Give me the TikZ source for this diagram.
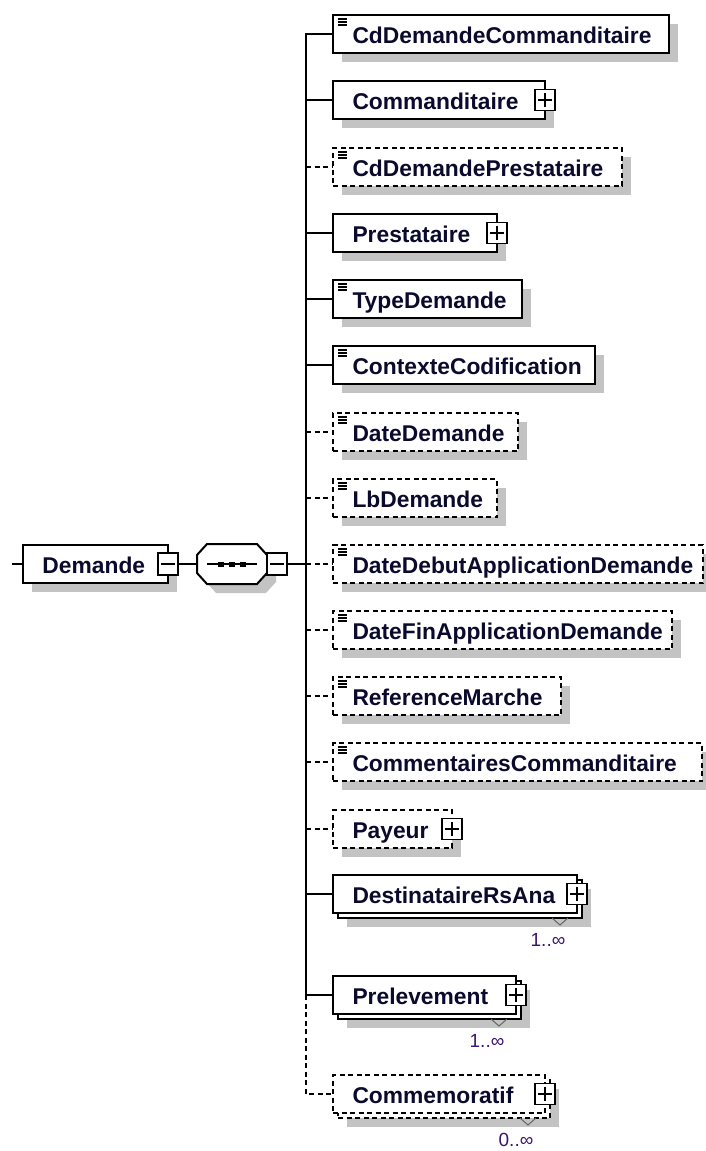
\documentclass[tikz,border=0pt]{standalone}
\usepackage{fontspec}
\setmainfont{Liberation Sans}
\definecolor{txtc}{RGB}{10,10,45}
\definecolor{shadowc}{RGB}{195,195,195}
\definecolor{multc}{RGB}{60,20,110}
\definecolor{vmc}{RGB}{100,100,100}
\tikzset{
  elem/.style={draw=black, line width=2pt, fill=white, anchor=west,
    inner xsep=0pt, inner ysep=0pt, outer sep=0pt, minimum height=38pt,
    text height=22pt, text depth=4pt,
    font=\bfseries\fontsize{22.8}{26}\selectfont, text=txtc},
  boxw/.style={execute at begin node={\hbox to #1\bgroup\hspace*{19.5pt}},
    execute at end node={\hfil\egroup}},
  opt/.style={dash pattern=on 5pt off 3.5pt},
  shd/.style={preaction={fill=shadowc, draw=none,
    transform canvas={shift={(9pt,-9pt)}}}},
  stk/.style={preaction={fill=shadowc, draw=none,
      transform canvas={shift={(14pt,-14pt)}}},
    preaction={fill=white, draw=black, line width=2pt, solid,
      transform canvas={shift={(5pt,-5pt)}}}},
  stkopt/.style={preaction={fill=shadowc, draw=none,
      transform canvas={shift={(14pt,-14pt)}}},
    preaction={fill=white, draw=black, line width=2pt,
      dash pattern=on 5pt off 3.5pt,
      transform canvas={shift={(5pt,-5pt)}}}},
  simpleicon/.style={path picture={
    \draw[line width=1.1pt, black, solid]
      ([shift={(5pt,-4pt)}]path picture bounding box.north west) -- ++(9pt,0pt)
      ([shift={(5pt,-7pt)}]path picture bounding box.north west) -- ++(9pt,0pt)
      ([shift={(5pt,-10pt)}]path picture bounding box.north west) -- ++(9pt,0pt);}},
  plusb/.style={draw=black, solid, line width=1.6pt, fill=white,
    minimum width=20pt, minimum height=21pt, inner sep=0pt, outer sep=0pt,
    path picture={\draw[line width=1.4pt, solid]
      ([xshift=-7pt]path picture bounding box.center) -- ([xshift=7pt]path picture bounding box.center)
      ([yshift=-7pt]path picture bounding box.center) -- ([yshift=7pt]path picture bounding box.center);}},
  minusb/.style={draw=black, solid, line width=1.6pt, fill=white,
    minimum width=20pt, minimum height=22pt, inner sep=0pt, outer sep=0pt,
    path picture={\draw[line width=1.4pt, solid]
      ([xshift=-7pt]path picture bounding box.center) -- ([xshift=7pt]path picture bounding box.center);}},
  conn/.style={line width=2pt, black},
  mult/.style={font=\fontsize{19}{21}\selectfont, text=multc, inner sep=0pt},
  vmark/.style={line width=1pt, draw=vmc, solid},
}
\begin{document}
\begin{tikzpicture}[x=1pt, y=-1pt]
\useasboundingbox (0,0) rectangle (706,1151);

% trunk coordinates
\coordinate (t1) at (306,34);
\coordinate (t2) at (306,100);
\coordinate (t3) at (306,167);
\coordinate (t4) at (306,233);
\coordinate (t5) at (306,299);
\coordinate (t6) at (306,365);
\coordinate (t7) at (306,432);
\coordinate (t8) at (306,498);
\coordinate (t9) at (306,564);
\coordinate (t10) at (306,630);
\coordinate (t11) at (306,696);
\coordinate (t12) at (306,762);
\coordinate (t13) at (306,829);
\coordinate (t14) at (306,894);
\coordinate (t15) at (306,995);
\coordinate (t16) at (306,1094);
\coordinate (stub) at (12,564);

% root element and sequence
\node[elem, shd, boxw=145pt] (n0) at (23,564) {Demande};
\node[minusb] (dm) at (n0.east) {};
\node[minimum width=70pt, minimum height=40pt, inner sep=0pt, outer sep=0pt] (seq) at (232,564) {};
\draw[line width=2pt, fill=white, shd]
  ([xshift=10pt]seq.north west) -- ([xshift=-10pt]seq.north east)
  -- ([yshift=-11pt]seq.north east) -- ([yshift=11pt]seq.south east)
  -- ([xshift=-10pt]seq.south east) -- ([xshift=10pt]seq.south west)
  -- ([yshift=11pt]seq.south west) -- ([yshift=-11pt]seq.north west) -- cycle;
\draw[line width=1.5pt] ([xshift=10pt]seq.west) -- ([xshift=-10pt]seq.east);
\fill ([xshift=-11pt]seq.center) +(-3pt,-2.5pt) rectangle +(3pt,2.5pt);
\fill (seq.center) +(-3pt,-2.5pt) rectangle +(3pt,2.5pt);
\fill ([xshift=11pt]seq.center) +(-3pt,-2.5pt) rectangle +(3pt,2.5pt);
\node[minusb, anchor=west] (sm) at (seq.east) {};

% children
\node[elem, shd, simpleicon, boxw=336pt] (n1) at (333,34) {CdDemandeCommanditaire};
\node[elem, shd, boxw=212pt] (n2) at (333,100) {Commanditaire};
\node[plusb] (p2) at (n2.east) {};
\node[elem, opt, shd, simpleicon, boxw=289pt] (n3) at (333,167) {CdDemandePrestataire};
\node[elem, shd, boxw=164pt] (n4) at (333,233) {Prestataire};
\node[plusb] (p4) at (n4.east) {};
\node[elem, shd, simpleicon, boxw=189pt] (n5) at (333,299) {TypeDemande};
\node[elem, shd, simpleicon, boxw=262pt] (n6) at (333,365) {ContexteCodification};
\node[elem, opt, shd, simpleicon, boxw=185pt] (n7) at (333,432) {DateDemande};
\node[elem, opt, shd, simpleicon, boxw=164pt] (n8) at (333,498) {LbDemande};
\node[elem, opt, shd, simpleicon, boxw=370pt] (n9) at (333,564) {DateDebutApplicationDemande};
\node[elem, opt, shd, simpleicon, boxw=339pt] (n10) at (333,630) {DateFinApplicationDemande};
\node[elem, opt, shd, simpleicon, boxw=228pt] (n11) at (333,696) {ReferenceMarche};
\node[elem, opt, shd, simpleicon, boxw=369pt] (n12) at (333,762) {CommentairesCommanditaire};
\node[elem, opt, shd, boxw=119pt] (n13) at (333,829) {Payeur};
\node[plusb] (p13) at (n13.east) {};
\node[elem, stk, boxw=244pt] (n14) at (333,894) {DestinataireRsAna};
\node[plusb] (p14) at (n14.east) {};
\node[elem, stk, boxw=183pt] (n15) at (333,995) {Prelevement};
\node[plusb] (p15) at (n15.east) {};
\node[elem, opt, stkopt, boxw=212pt] (n16) at (333,1094) {Commemoratif};
\node[plusb] (p16) at (n16.east) {};

% multiplicity marks
\draw[vmark] ([shift={(-25pt,-24pt)}]n14.east) -- ++(8pt,-7pt) -- ++(8pt,7pt);
\draw[vmark] ([shift={(-25pt,-24pt)}]n15.east) -- ++(8pt,-7pt) -- ++(8pt,7pt);
\draw[vmark] ([shift={(-25pt,-24pt)}]n16.east) -- ++(8pt,-7pt) -- ++(8pt,7pt);
\node[mult] (m14) at ([shift={(-29pt,-46pt)}]n14.east) {1..∞};
\node[mult] (m15) at ([shift={(-29pt,-46pt)}]n15.east) {1..∞};
\node[mult] (m16) at ([shift={(-29pt,-46pt)}]n16.east) {0..∞};

% connectors
\draw[conn] (stub) -- (n0.west);
\draw[conn] (dm.east) -- (seq.west);
\draw[conn] (sm.east) -- (t9);
\draw[conn] (n1.west) -- (t1) -- (t15);
\draw[conn, opt] (t15) -- (t16) -- (n16.west);
\foreach \i in {2,4,5,6,14,15} { \draw[conn] (t\i) -- (n\i.west); }
\foreach \i in {3,7,8,9,10,11,12,13} { \draw[conn, opt] (t\i) -- (n\i.west); }
\end{tikzpicture}
\end{document}
